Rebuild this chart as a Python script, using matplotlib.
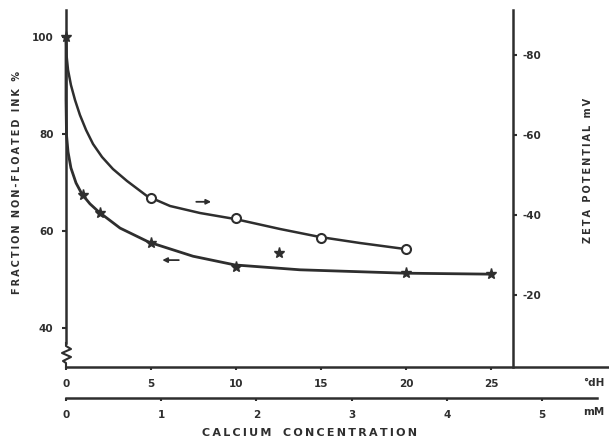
import matplotlib
matplotlib.use("Agg")
import matplotlib.pyplot as plt
from matplotlib.lines import Line2D

# --- data ---
# measured points, x in degrees of German hardness (dH)
dh_star = [0, 1, 2, 5, 10, 12.5, 20, 25]
frac_star = [100, 67.4, 63.7, 57.5, 52.6, 55.5, 51.3, 51.1]      # left axis, %

dh_circle = [5, 10, 15, 20]
zeta_circle = [-44.3, -39.2, -34.3, -31.5]                     # right axis, mV

# hand-drawn curves
frac_curve_x = [0, 0, 0.03, 0.12, 0.29, 0.59, 0.94, 1.41, 1.94, 3.18, 4.88, 7.47, 9.94,
                13.76, 19.94, 25.06]
frac_curve_y = [100, 87, 79.8, 76.3, 73.0, 69.9, 67.6, 65.6, 63.9, 60.6, 57.7, 54.8, 53.0,
                52.0, 51.3, 51.1]
zeta_curve_x = [0, 0.03, 0.12, 0.29, 0.53, 0.82, 1.18, 1.59, 2.12, 2.76, 3.59, 4.76, 6.12,
                7.88, 9.94, 12.59, 14.94, 17.29, 19.94]
zeta_curve_y = [-84.5, -80, -76.25, -72.5, -68.75, -65, -61.25, -57.75, -54.5, -51.5, -48.5,
                -44.75, -42.25, -40.5, -39, -36.5, -34.5, -33, -31.5]

left_ticks = [40, 60, 80, 100]
right_ticks = [-80, -60, -40, -20]
dh_ticks = [0, 5, 10, 15, 20, 25]
mm_ticks = [0, 1, 2, 3, 4, 5]

INK = "#2e2e2e"
plt.rcParams.update({
    "font.family": "DejaVu Sans",
    "font.weight": "bold",
    "font.size": 7.5,
    "text.color": INK,
    "axes.edgecolor": INK,
    "xtick.color": INK,
    "ytick.color": INK,
})

W, H = 609, 442
PX_DH = 17.0          # pixels per dH
PX_MM = PX_DH * 5.6   # 1 mM Ca = 5.6 dH


def fx(px):
    return px / W


def fy(py):
    return 1 - py / H


def spaced(s):
    return "\u2009".join(s)


fig = plt.figure(figsize=(W / 100, H / 100), dpi=100)

ax = fig.add_axes([fx(66), fy(367), (513 - 66) / W, (367 - 10) / H])
ax.set_facecolor("none")
ax.set_xlim(0, (513 - 66) / PX_DH)
ax.set_ylim(100 - 330 / 4.85, 100 + 27 / 4.85)
for s in ["top", "right", "bottom"]:
    ax.spines[s].set_visible(False)
ax.spines["left"].set_linewidth(1.8)
ax.spines["left"].set_bounds(100 - (343 - 37) / 4.85, 100 + 27 / 4.85)
ax.set_xticks([])
ax.set_yticks(left_ticks)
ax.tick_params(axis="y", length=3, width=1.5, pad=6, labelsize=7.5)

ax2 = ax.twinx()
ax2.set_ylim(-80 + (367 - 55) / 4.0, -80 - 45 / 4.0)
for s in ["top", "left", "bottom"]:
    ax2.spines[s].set_visible(False)
ax2.spines["right"].set_linewidth(1.8)
ax2.set_yticks(right_ticks)
ax2.set_yticklabels([str(t) for t in right_ticks])
ax2.tick_params(axis="y", length=3, width=1.5, pad=4, labelsize=7.5)

# curves and markers
ax.plot(frac_curve_x, frac_curve_y, color=INK, lw=2, solid_capstyle="round",
        solid_joinstyle="round", clip_on=False)
ax.plot(dh_star, frac_star, ls="none", marker="*", ms=8, color=INK, clip_on=False)
ax2.plot(zeta_curve_x, zeta_curve_y, color=INK, lw=1.8, solid_capstyle="round",
         solid_joinstyle="round", clip_on=False)
ax2.plot(dh_circle, zeta_circle, ls="none", marker="o", ms=6.5, mfc="white",
         mec=INK, mew=1.5, clip_on=False)

# little arrows telling which axis each curve belongs to
ax2.annotate("", xy=(8.7, -43.3), xytext=(7.5, -43.3),
             arrowprops=dict(arrowstyle="-|>", color=INK, lw=1.3, mutation_scale=7))
ax.annotate("", xy=(5.5, 54.0), xytext=(6.8, 54.0),
            arrowprops=dict(arrowstyle="-|>", color=INK, lw=1.3, mutation_scale=7))

# dH scale (runs past the right axis)
ax_dh = fig.add_axes([fx(66), fy(367), (609 - 66) / W, 0.0001])
ax_dh.set_facecolor("none")
ax_dh.set_xlim(0, (609 - 66) / PX_DH)
for s in ["top", "left", "right"]:
    ax_dh.spines[s].set_visible(False)
ax_dh.spines["bottom"].set_linewidth(1.8)
ax_dh.set_yticks([])
ax_dh.set_xticks(dh_ticks)
ax_dh.tick_params(axis="x", length=2.5, width=1.5, pad=6, labelsize=7.5)

# mM scale
ax_mm = fig.add_axes([fx(66), fy(398), (597 - 66) / W, 0.0001])
ax_mm.set_facecolor("none")
ax_mm.set_xlim(0, (597 - 66) / PX_MM)
for s in ["top", "left", "right"]:
    ax_mm.spines[s].set_visible(False)
ax_mm.spines["bottom"].set_linewidth(1.8)
ax_mm.set_yticks([])
ax_mm.set_xticks(mm_ticks)
ax_mm.tick_params(axis="x", length=2.5, width=1.5, pad=6, labelsize=7.5)

fig.text(fx(583), fy(383), "°dH", ha="left", va="center", fontsize=7.5)
fig.text(fx(583), fy(412), "mM", ha="left", va="center", fontsize=7.5)

# axis break on the left axis
bx = [66, 66, 71, 62, 71, 63, 66, 66]
by = [343, 346, 349, 353, 357, 361, 363, 367]
fig.add_artist(Line2D([fx(x) for x in bx], [fy(y) for y in by],
                      transform=fig.transFigure, color=INK, lw=1.5))

# axis titles
fig.text(fx(17), fy(183), spaced("FRACTION NON-FLOATED INK %"), rotation=90,
         ha="center", va="center", fontsize=7)
fig.text(fx(588), fy(170), spaced("ZETA POTENTIAL mV"), rotation=90,
         ha="center", va="center", fontsize=7)
fig.text(fx(310), fy(433), spaced("CALCIUM") + "   " + spaced("CONCENTRATION"),
         ha="center", va="center", fontsize=8)

fig.savefig("out.png", dpi=100, facecolor="white")
